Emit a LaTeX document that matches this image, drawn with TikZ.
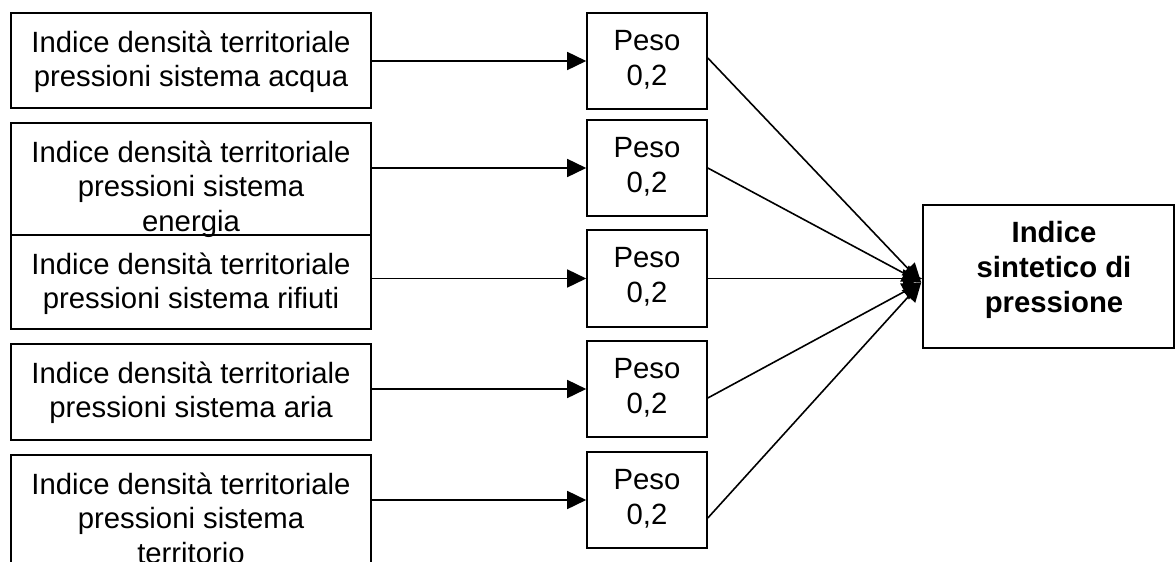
\documentclass[tikz,border=0pt]{standalone}
\usepackage{fontspec}
\setmainfont{Liberation Sans}
\usetikzlibrary{arrows.meta,calc}
\begin{document}
\begin{tikzpicture}[x=1pt,y=-1pt,
  box/.style={draw=black, line width=1.6pt, rectangle, inner sep=0pt},
  lbox/.style={box, minimum width=360pt},
  pbox/.style={box, minimum width=120pt, minimum height=96pt},
  txt/.style={align=center, inner sep=0pt, anchor=north, font=\fontsize{29.3}{34.5}\selectfont},
  arr/.style={line width=1.6pt, -{Triangle[length=19pt,width=18pt]}}
]
\useasboundingbox (0,0) rectangle (1175,562);
\clip (0,0) rectangle (1175,562);

% left boxes
\node[lbox, minimum height=95pt] (l1) at (191,60.5) {};
\node[txt] (t1) at ($(l1.north)+(0,18.5)$) {Indice densità territoriale\\pressioni sistema acqua};
\node[lbox, minimum height=112pt] (l2) at (191,179) {};
\node[txt] (t2) at ($(l2.north)+(0,18.5)$) {Indice densità territoriale\\pressioni sistema\\energia};
\node[lbox, minimum height=94pt] (l3) at (191,282) {};
\node[txt] (t3) at ($(l3.north)+(0,18.5)$) {Indice densità territoriale\\pressioni sistema rifiuti};
\node[lbox, minimum height=96pt] (l4) at (191,392) {};
\node[txt] (t4) at ($(l4.north)+(0,18.5)$) {Indice densità territoriale\\pressioni sistema aria};
\node[lbox, minimum height=112pt] (l5) at (191,511) {};
\node[txt] (t5) at ($(l5.north)+(0,18.5)$) {Indice densità territoriale\\pressioni sistema\\territorio};

% weight boxes
\node[pbox] (p1) at (647,61) {};
\node[txt] (q1) at ($(p1.north)+(0,18)$) {Peso\\0,2};
\node[pbox] (p2) at (647,168) {};
\node[txt] (q2) at ($(p2.north)+(0,18)$) {Peso\\0,2};
\node[pbox, minimum height=97pt] (p3) at (647,278.5) {};
\node[txt] (q3) at ($(p3.north)+(0,18)$) {Peso\\0,2};
\node[pbox] (p4) at (647,389) {};
\node[txt] (q4) at ($(p4.north)+(0,18)$) {Peso\\0,2};
\node[pbox] (p5) at (647,500) {};
\node[txt] (q5) at ($(p5.north)+(0,18)$) {Peso\\0,2};

% result box
\node[box, minimum width=251pt, minimum height=143pt] (r) at (1048.5,276.5) {};
\node[txt, font=\fontsize{29.3}{35}\selectfont\bfseries] (rt) at (1054,221) {Indice\\sintetico di\\pressione};

% arrows left -> weight
\foreach \i in {1,...,5}{
  \draw[arr] (l\i.east |- p\i.west) -- (p\i.west);
}

% arrows weight -> result
\coordinate (tip) at ($(r.west)+(-1,6)$);
\draw[arr] ($(p1.east)+(0,-3)$) -- (tip);
\draw[arr] (p2.east) -- (tip);
\draw[arr] (p3.east) -- (p3.east -| r.west);
\draw[arr] ($(p4.east)+(0,9)$) -- (tip);
\draw[arr] ($(p5.east)+(0,18)$) -- (tip);
\end{tikzpicture}
\end{document}
